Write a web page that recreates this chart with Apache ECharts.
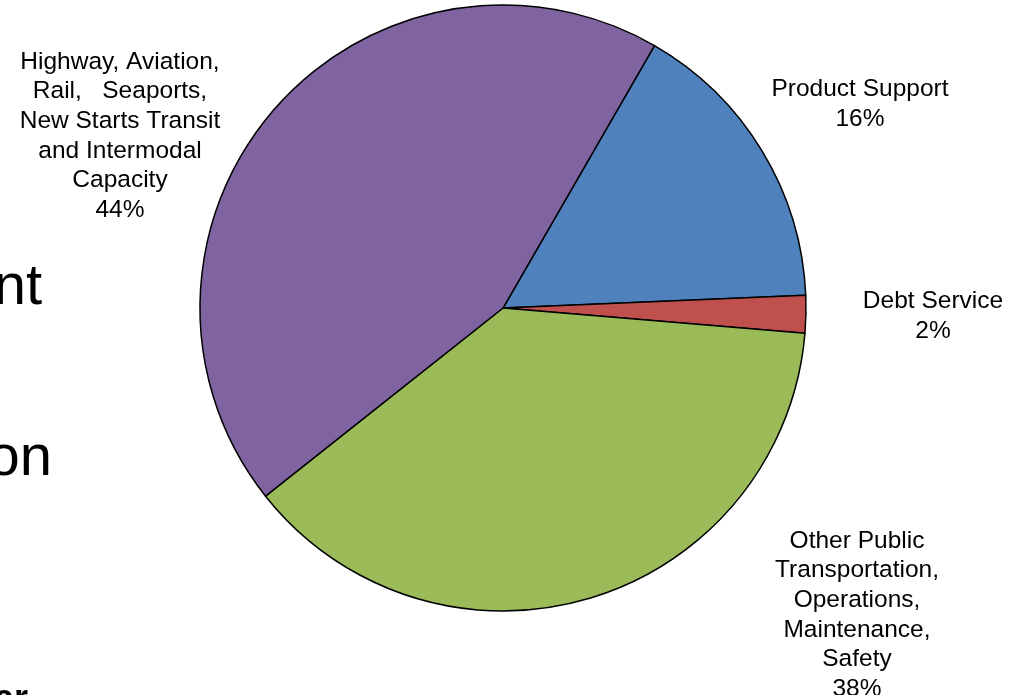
<!DOCTYPE html>
<html>
<head>
<meta charset="utf-8">
<script src="https://cdn.jsdelivr.net/npm/echarts@6/dist/echarts.min.js"></script>
<style>
  html, body { margin: 0; padding: 0; background: #fff; }
  #chart { width: 1019px; height: 695px; }
</style>
</head>
<body>
<div id="chart"></div>
<script>
// Spending categories, clockwise from the upper right
const categories = [
  'Product Support',
  'Debt Service',
  'Other Public\nTransportation,\nOperations,\nMaintenance,\nSafety',
  'Highway, Aviation,\nRail,   Seaports,\nNew Starts Transit\nand Intermodal\nCapacity'
];
// Share of the total, in percent
const shares = [16, 2, 38, 44];
const sliceColors = ['#4F81BD', '#C0504D', '#9BBB59', '#8064A2'];

// Where each label block sits (centre of the text block)
const labelSpots = [
  { x: 860, y: 104 },
  { x: 933, y: 316 },
  { x: 857, y: 615 },
  { x: 120, y: 136 }
];

const chart = echarts.init(document.getElementById('chart'), null, { renderer: 'canvas' });

const font = '"Liberation Sans", Arial, sans-serif';

chart.setOption({
  animation: false,
  backgroundColor: '#ffffff',
  graphic: [
    // fragments of slide text running in from the left edge
    { type: 'text', x: 42, y: 288, style: { text: 'nt', font: '58px ' + font, fill: '#000', align: 'right', verticalAlign: 'middle' } },
    { type: 'text', x: 52, y: 459, style: { text: 'on', font: '58px ' + font, fill: '#000', align: 'right', verticalAlign: 'middle' } },
    { type: 'text', x: 28, y: 700, style: { text: 'ar', font: 'bold 36px ' + font, fill: '#000', align: 'right', verticalAlign: 'middle' } }
  ],
  series: [{
    type: 'pie',
    center: [503, 308],
    radius: 303,
    startAngle: 60,
    clockwise: true,
    silent: true,
    data: categories.map((name, i) => ({
      name: name,
      value: shares[i],
      itemStyle: { color: sliceColors[i] }
    })),
    itemStyle: { borderColor: '#000', borderWidth: 1.5 },
    label: {
      show: true,
      position: 'outside',
      color: '#000',
      fontFamily: font,
      fontSize: 24.5,
      lineHeight: 29.7,
      align: 'center',
      formatter: p => p.name + '\n' + Math.round(p.percent) + '%'
    },
    labelLine: { show: false },
    labelLayout: p => ({
      x: labelSpots[p.dataIndex].x,
      y: labelSpots[p.dataIndex].y,
      align: 'center',
      verticalAlign: 'middle'
    }),
    emphasis: { disabled: true }
  }]
});
</script>
</body>
</html>
